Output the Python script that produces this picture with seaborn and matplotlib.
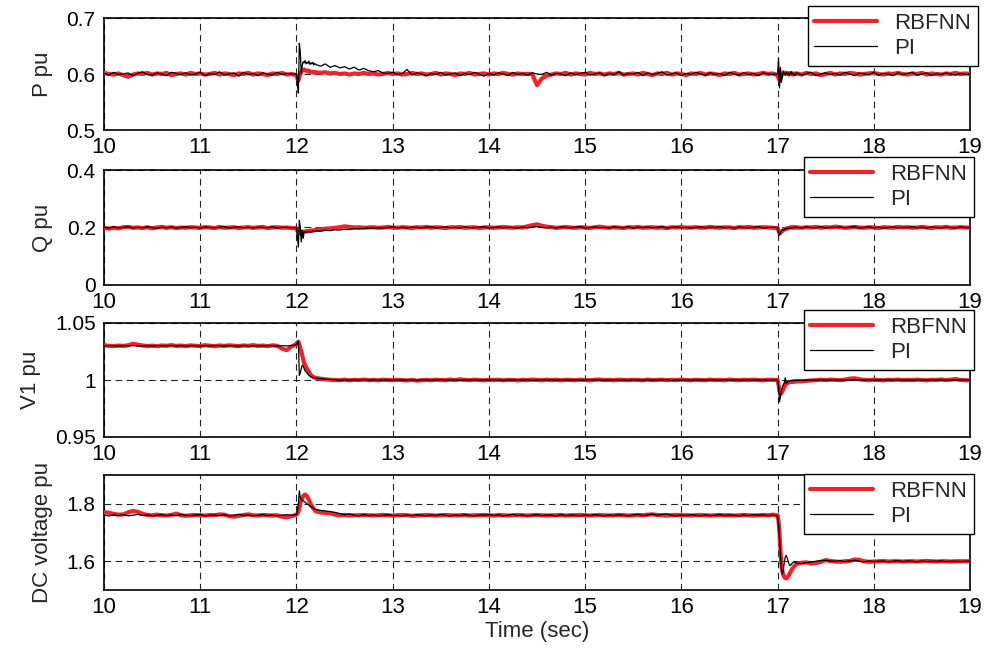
import numpy as np
import pandas as pd
import matplotlib
matplotlib.use("Agg")
import matplotlib.pyplot as plt
import seaborn as sns

# ---------------- time grid (s): coarse in steady state, fine around the events
t = np.round(np.concatenate([
    np.linspace(10.00, 11.95, 40),
    np.linspace(12.00, 12.19, 20),
    np.linspace(12.20, 16.95, 96),
    np.linspace(17.00, 17.19, 20),
    np.linspace(17.20, 19.00, 37),
]), 2)

x_ticks = [10, 11, 12, 13, 14, 15, 16, 17, 18, 19]
x_tick_labels = ["10", "11", "12", "13", "14", "15", "16", "17", "18", "19"]
series_names = ["RBFNN", "PI"]

# ---------------- P (pu)
p_rbfnn = (
    [0.602, 0.600, 0.599, 0.601, 0.598, 0.595, 0.599, 0.601, 0.600, 0.602,
     0.599, 0.601, 0.600, 0.602, 0.598, 0.600, 0.601, 0.599, 0.602, 0.600,
     0.601, 0.599, 0.600, 0.602, 0.599, 0.601, 0.600, 0.598, 0.601, 0.600,
     0.602, 0.599, 0.601, 0.600, 0.598, 0.601, 0.600, 0.602, 0.599, 0.600]
    + [0.598, 0.592, 0.588, 0.595, 0.600, 0.604, 0.606, 0.607, 0.608, 0.607,
       0.606, 0.605, 0.606, 0.604, 0.605, 0.603, 0.604, 0.603, 0.604, 0.602]
    + [0.603, 0.602, 0.603, 0.601, 0.602, 0.600,
       0.601, 0.599, 0.601, 0.600, 0.602, 0.600,
       0.601, 0.599, 0.600, 0.602, 0.600, 0.601,
       0.599, 0.600, 0.602, 0.600, 0.601, 0.599,
       0.600, 0.602, 0.599, 0.601, 0.600, 0.598,
       0.601, 0.600, 0.602, 0.599, 0.600, 0.601,
       0.599, 0.601, 0.600, 0.602, 0.600, 0.599,
       0.601, 0.600, 0.600, 0.600, 0.580, 0.592,
       0.597, 0.599, 0.601, 0.600, 0.602, 0.599,
       0.601, 0.600, 0.599, 0.602, 0.600, 0.601,
       0.599, 0.601, 0.600, 0.602, 0.599, 0.600,
       0.601, 0.599, 0.602, 0.600, 0.598, 0.601,
       0.600, 0.602, 0.599, 0.601, 0.600, 0.598,
       0.601, 0.600, 0.602, 0.599, 0.601, 0.600,
       0.598, 0.601, 0.600, 0.602, 0.599, 0.600,
       0.601, 0.599, 0.600, 0.602, 0.600, 0.601]
    + [0.598, 0.592, 0.589, 0.593, 0.597, 0.600, 0.603, 0.602, 0.601, 0.600,
       0.602, 0.601, 0.599, 0.600, 0.602, 0.601, 0.599, 0.600, 0.601, 0.600]
    + [0.601, 0.599, 0.602, 0.600, 0.601, 0.598,
       0.600, 0.602, 0.599, 0.601, 0.600, 0.602,
       0.601, 0.599, 0.600, 0.601, 0.602, 0.600,
       0.599, 0.601, 0.600, 0.602, 0.600, 0.599,
       0.601, 0.600, 0.602, 0.599, 0.601, 0.600,
       0.599, 0.601, 0.600, 0.602, 0.600, 0.601,
       0.600]
)
p_pi = (
    [0.601, 0.598, 0.603, 0.599, 0.600, 0.602, 0.597, 0.601, 0.604, 0.599,
     0.598, 0.602, 0.600, 0.597, 0.603, 0.601, 0.599, 0.602, 0.598, 0.600,
     0.603, 0.597, 0.601, 0.599, 0.604, 0.598, 0.600, 0.602, 0.596, 0.603,
     0.599, 0.601, 0.597, 0.602, 0.600, 0.598, 0.603, 0.599, 0.601, 0.600]
    + [0.600, 0.585, 0.566, 0.655, 0.640, 0.600, 0.615, 0.622, 0.620, 0.624,
       0.618, 0.621, 0.619, 0.623, 0.617, 0.620, 0.618, 0.621, 0.616, 0.619]
    + [0.617, 0.614, 0.618, 0.612, 0.615, 0.611,
       0.613, 0.609, 0.612, 0.607, 0.610, 0.606,
       0.604, 0.606, 0.602, 0.601, 0.603, 0.599,
       0.601, 0.608, 0.598, 0.602, 0.600, 0.597,
       0.601, 0.599, 0.603, 0.598, 0.600, 0.602,
       0.597, 0.601, 0.599, 0.603, 0.600, 0.596,
       0.601, 0.598, 0.602, 0.600, 0.597, 0.603,
       0.599, 0.601, 0.598, 0.602, 0.600, 0.599,
       0.603, 0.598, 0.601, 0.600, 0.597, 0.602,
       0.599, 0.601, 0.603, 0.598, 0.600, 0.602,
       0.597, 0.601, 0.599, 0.604, 0.598, 0.601,
       0.600, 0.603, 0.597, 0.602, 0.599, 0.601,
       0.604, 0.598, 0.600, 0.602, 0.597, 0.601,
       0.599, 0.603, 0.600, 0.598, 0.602, 0.599,
       0.601, 0.597, 0.603, 0.600, 0.598, 0.602,
       0.599, 0.601, 0.597, 0.602, 0.600, 0.599]
    + [0.600, 0.628, 0.575, 0.612, 0.585, 0.596, 0.604, 0.601, 0.598, 0.603,
       0.600, 0.602, 0.598, 0.601, 0.604, 0.599, 0.602, 0.600, 0.597, 0.601]
    + [0.602, 0.598, 0.601, 0.603, 0.597, 0.600,
       0.602, 0.599, 0.601, 0.598, 0.603, 0.600,
       0.597, 0.602, 0.600, 0.599, 0.603, 0.598,
       0.601, 0.600, 0.597, 0.602, 0.599, 0.601,
       0.603, 0.598, 0.600, 0.602, 0.597, 0.601,
       0.599, 0.602, 0.600, 0.598, 0.601, 0.599,
       0.600]
)

# ---------------- Q (pu)
q_rbfnn = (
    [0.198, 0.196, 0.199, 0.197, 0.201, 0.202, 0.199, 0.200, 0.198, 0.201,
     0.197, 0.200, 0.202, 0.199, 0.201, 0.198, 0.200, 0.199, 0.201, 0.200,
     0.199, 0.201, 0.200, 0.198, 0.202, 0.199, 0.200, 0.201, 0.198, 0.200,
     0.201, 0.199, 0.200, 0.202, 0.198, 0.200, 0.201, 0.199, 0.200, 0.198]
    + [0.197, 0.188, 0.182, 0.180, 0.183, 0.185, 0.186, 0.184, 0.185, 0.186,
       0.187, 0.186, 0.188, 0.187, 0.189, 0.188, 0.190, 0.189, 0.190, 0.191]
    + [0.192, 0.194, 0.196, 0.197, 0.199, 0.201,
       0.204, 0.202, 0.200, 0.201, 0.199, 0.200,
       0.201, 0.199, 0.200, 0.202, 0.200, 0.199,
       0.201, 0.200, 0.198, 0.201, 0.200, 0.202,
       0.199, 0.201, 0.200, 0.198, 0.201, 0.200,
       0.202, 0.199, 0.200, 0.201, 0.198, 0.200,
       0.201, 0.199, 0.200, 0.202, 0.200, 0.199,
       0.201, 0.200, 0.204, 0.208, 0.211, 0.206,
       0.203, 0.201, 0.199, 0.200, 0.202, 0.200,
       0.199, 0.201, 0.200, 0.198, 0.201, 0.203,
       0.200, 0.199, 0.201, 0.200, 0.198, 0.201,
       0.200, 0.202, 0.199, 0.200, 0.201, 0.199,
       0.200, 0.198, 0.201, 0.200, 0.202, 0.199,
       0.200, 0.201, 0.199, 0.200, 0.202, 0.200,
       0.199, 0.201, 0.200, 0.198, 0.201, 0.200,
       0.202, 0.199, 0.200, 0.201, 0.200, 0.199]
    + [0.198, 0.188, 0.180, 0.182, 0.185, 0.188, 0.191, 0.193, 0.195, 0.196,
       0.198, 0.197, 0.199, 0.200, 0.201, 0.200, 0.199, 0.201, 0.200, 0.202]
    + [0.200, 0.199, 0.201, 0.200, 0.202, 0.199,
       0.201, 0.200, 0.203, 0.201, 0.199, 0.200,
       0.202, 0.200, 0.199, 0.201, 0.200, 0.198,
       0.201, 0.200, 0.199, 0.202, 0.200, 0.201,
       0.199, 0.200, 0.202, 0.200, 0.198, 0.201,
       0.200, 0.202, 0.199, 0.200, 0.201, 0.200,
       0.200]
)
q_pi = (
    [0.201, 0.198, 0.202, 0.199, 0.200, 0.203, 0.198, 0.201, 0.199, 0.202,
     0.200, 0.197, 0.201, 0.199, 0.202, 0.198, 0.200, 0.203, 0.199, 0.201,
     0.198, 0.202, 0.200, 0.199, 0.201, 0.203, 0.198, 0.200, 0.202, 0.199,
     0.201, 0.198, 0.202, 0.200, 0.199, 0.203, 0.198, 0.201, 0.200, 0.199]
    + [0.200, 0.170, 0.132, 0.225, 0.200, 0.150, 0.190, 0.162, 0.185, 0.183,
       0.186, 0.184, 0.185, 0.187, 0.184, 0.186, 0.185, 0.188, 0.186, 0.187]
    + [0.188, 0.187, 0.190, 0.189, 0.192, 0.191,
       0.194, 0.193, 0.196, 0.195, 0.197, 0.198,
       0.197, 0.199, 0.198, 0.200, 0.202, 0.199,
       0.201, 0.198, 0.202, 0.200, 0.199, 0.201,
       0.203, 0.198, 0.200, 0.202, 0.199, 0.201,
       0.198, 0.202, 0.200, 0.199, 0.201, 0.203,
       0.198, 0.200, 0.202, 0.199, 0.201, 0.200,
       0.198, 0.202, 0.199, 0.201, 0.203, 0.200,
       0.199, 0.201, 0.198, 0.202, 0.200, 0.199,
       0.201, 0.203, 0.198, 0.200, 0.202, 0.199,
       0.201, 0.198, 0.202, 0.200, 0.199, 0.203,
       0.198, 0.201, 0.200, 0.202, 0.199, 0.201,
       0.203, 0.198, 0.200, 0.202, 0.199, 0.201,
       0.198, 0.200, 0.202, 0.199, 0.201, 0.200,
       0.203, 0.199, 0.201, 0.198, 0.202, 0.200,
       0.199, 0.201, 0.203, 0.198, 0.200, 0.201]
    + [0.200, 0.185, 0.172, 0.180, 0.188, 0.192, 0.190, 0.195, 0.193, 0.197,
       0.196, 0.198, 0.197, 0.199, 0.198, 0.200, 0.199, 0.201, 0.200, 0.199]
    + [0.201, 0.198, 0.202, 0.200, 0.199, 0.203,
       0.198, 0.201, 0.200, 0.202, 0.199, 0.201,
       0.203, 0.198, 0.200, 0.202, 0.199, 0.201,
       0.198, 0.200, 0.202, 0.199, 0.201, 0.200,
       0.203, 0.199, 0.201, 0.198, 0.202, 0.200,
       0.199, 0.201, 0.200, 0.198, 0.202, 0.200,
       0.200]
)

# ---------------- V1 (pu)
v1_rbfnn = (
    [1.0305, 1.0300, 1.0297, 1.0302, 1.0299, 1.0304, 1.0318, 1.0310, 1.0303, 1.0298,
     1.0301, 1.0296, 1.0303, 1.0300, 1.0306, 1.0299, 1.0302, 1.0297, 1.0304, 1.0300,
     1.0298, 1.0305, 1.0301, 1.0296, 1.0303, 1.0299, 1.0304, 1.0301, 1.0297, 1.0303,
     1.0300, 1.0306, 1.0299, 1.0302, 1.0297, 1.0304, 1.0300, 1.0275, 1.0262, 1.0295]
    + [1.0315, 1.0330, 1.0335, 1.0310, 1.0280, 1.0250, 1.0215, 1.0180, 1.0150, 1.0130,
       1.0115, 1.0100, 1.0085, 1.0070, 1.0055, 1.0045, 1.0035, 1.0030, 1.0025, 1.0022]
    + [1.0018, 1.0012, 1.0006, 1.0002, 1.0000, 0.9998,
       1.0003, 0.9997, 1.0002, 0.9999, 1.0004, 0.9998,
       1.0001, 0.9997, 1.0003, 1.0000, 0.9998, 1.0002,
       0.9999, 0.9996, 1.0001, 0.9994, 0.9998, 1.0002,
       0.9997, 1.0003, 1.0000, 0.9998, 1.0004, 0.9999,
       1.0006, 1.0001, 0.9998, 1.0003, 1.0000, 0.9997,
       1.0002, 0.9999, 1.0003, 0.9997, 1.0001, 1.0000,
       0.9996, 1.0002, 0.9999, 1.0004, 1.0000, 0.9998,
       1.0003, 0.9999, 1.0001, 0.9997, 1.0002, 1.0000,
       0.9998, 1.0003, 1.0000, 0.9997, 1.0002, 1.0004,
       0.9999, 1.0001, 0.9997, 1.0003, 1.0000, 0.9998,
       1.0002, 1.0000, 0.9997, 1.0004, 0.9999, 1.0001,
       1.0003, 0.9998, 1.0001, 0.9999, 1.0004, 1.0000,
       0.9997, 1.0002, 1.0000, 0.9998, 1.0003, 0.9999,
       1.0001, 0.9997, 1.0004, 1.0000, 0.9998, 1.0002,
       0.9999, 1.0003, 1.0000, 0.9997, 1.0002, 1.0001]
    + [1.0000, 0.9960, 0.9900, 0.9880, 0.9885, 0.9900, 0.9920, 0.9940, 0.9955, 0.9965,
       0.9972, 0.9978, 0.9982, 0.9980, 0.9985, 0.9983, 0.9987, 0.9984, 0.9988, 0.9986]
    + [0.9990, 0.9988, 0.9993, 0.9996, 0.9998, 1.0003,
       0.9999, 1.0004, 1.0001, 0.9998, 1.0003, 1.0012,
       1.0015, 1.0006, 1.0001, 0.9998, 1.0003, 1.0000,
       0.9997, 1.0002, 1.0000, 1.0004, 0.9998, 1.0001,
       0.9999, 1.0003, 1.0000, 0.9997, 1.0002, 1.0000,
       1.0005, 0.9999, 1.0003, 1.0008, 1.0001, 0.9998,
       0.9996]
)
v1_pi = (
    [1.0298, 1.0302, 1.0300, 1.0297, 1.0301, 1.0299, 1.0303, 1.0298, 1.0300, 1.0301,
     1.0297, 1.0302, 1.0299, 1.0300, 1.0303, 1.0298, 1.0301, 1.0299, 1.0300, 1.0302,
     1.0298, 1.0301, 1.0299, 1.0302, 1.0300, 1.0297, 1.0301, 1.0300, 1.0298, 1.0302,
     1.0300, 1.0299, 1.0301, 1.0298, 1.0302, 1.0300, 1.0297, 1.0301, 1.0299, 1.0302]
    + [1.0310, 1.0330, 1.0340, 1.0040, 1.0060, 1.0100, 1.0130, 1.0120, 1.0100, 1.0080,
       1.0070, 1.0060, 1.0050, 1.0040, 1.0035, 1.0030, 1.0025, 1.0020, 1.0022, 1.0018]
    + [1.0015, 1.0012, 1.0008, 1.0005, 1.0002, 0.9997,
       1.0002, 0.9998, 1.0001, 0.9999, 1.0003, 0.9998,
       1.0000, 1.0002, 0.9997, 1.0001, 0.9999, 1.0002,
       0.9998, 1.0001, 1.0000, 0.9997, 1.0002, 0.9999,
       1.0001, 0.9998, 1.0003, 1.0000, 0.9999, 1.0002,
       0.9997, 1.0001, 1.0000, 1.0002, 0.9998, 1.0001,
       0.9999, 1.0002, 1.0000, 0.9998, 1.0001, 0.9999,
       1.0002, 0.9999, 1.0001, 0.9997, 1.0000, 1.0002,
       0.9999, 1.0001, 0.9998, 1.0002, 1.0000, 0.9999,
       1.0001, 0.9998, 1.0000, 1.0002, 0.9999, 1.0001,
       0.9998, 1.0000, 1.0002, 0.9999, 1.0001, 0.9997,
       1.0002, 1.0000, 0.9999, 1.0001, 0.9998, 1.0000,
       1.0001, 1.0003, 0.9996, 1.0000, 0.9999, 1.0002,
       0.9998, 1.0001, 1.0000, 0.9999, 1.0002, 1.0000,
       0.9999, 1.0002, 0.9998, 1.0001, 1.0000, 0.9999,
       1.0002, 0.9999, 1.0000, 1.0001, 0.9998, 1.0001]
    + [1.0000, 0.9950, 0.9810, 0.9850, 0.9900, 0.9940, 0.9960, 0.9975, 1.0020, 0.9970,
       0.9980, 0.9985, 0.9990, 0.9992, 0.9995, 0.9994, 0.9996, 0.9997, 0.9995, 0.9998]
    + [0.9997, 0.9999, 0.9998, 1.0000, 0.9998, 1.0001,
       0.9999, 1.0000, 1.0002, 0.9999, 1.0001, 0.9998,
       1.0000, 1.0001, 0.9999, 1.0002, 1.0000, 0.9998,
       1.0001, 0.9999, 1.0000, 1.0002, 0.9999, 1.0000,
       0.9998, 1.0001, 1.0000, 0.9999, 1.0002, 1.0000,
       0.9999, 1.0001, 1.0000, 0.9998, 1.0001, 1.0000,
       1.0000]
)

# ---------------- DC voltage (pu)
dc_rbfnn = (
    [1.770, 1.769, 1.765, 1.762, 1.763, 1.770, 1.775, 1.772, 1.765, 1.761,
     1.760, 1.762, 1.760, 1.759, 1.761, 1.766, 1.760, 1.758, 1.760, 1.761,
     1.760, 1.759, 1.761, 1.760, 1.763, 1.762, 1.757, 1.755, 1.758, 1.761,
     1.763, 1.760, 1.759, 1.761, 1.760, 1.759, 1.760, 1.755, 1.753, 1.757]
    + [1.762, 1.765, 1.772, 1.785, 1.800, 1.812, 1.820, 1.826, 1.830, 1.832,
       1.830, 1.826, 1.820, 1.812, 1.805, 1.798, 1.792, 1.786, 1.782, 1.778]
    + [1.774, 1.770, 1.768, 1.767, 1.762, 1.760,
       1.761, 1.759, 1.760, 1.760, 1.761, 1.760,
       1.759, 1.760, 1.761, 1.760, 1.759, 1.760,
       1.761, 1.760, 1.758, 1.759, 1.760, 1.761,
       1.760, 1.759, 1.760, 1.761, 1.760, 1.759,
       1.760, 1.761, 1.759, 1.760, 1.760, 1.761,
       1.760, 1.759, 1.761, 1.760, 1.759, 1.760,
       1.761, 1.760, 1.759, 1.760, 1.761, 1.760,
       1.759, 1.760, 1.760, 1.761, 1.759, 1.760,
       1.760, 1.761, 1.760, 1.759, 1.760, 1.761,
       1.760, 1.759, 1.760, 1.761, 1.760, 1.759,
       1.760, 1.761, 1.760, 1.762, 1.763, 1.761,
       1.760, 1.759, 1.760, 1.761, 1.760, 1.760,
       1.759, 1.760, 1.761, 1.760, 1.759, 1.760,
       1.761, 1.760, 1.760, 1.759, 1.760, 1.761,
       1.760, 1.759, 1.760, 1.761, 1.760, 1.762]
    + [1.760, 1.740, 1.700, 1.640, 1.590, 1.565, 1.552, 1.545, 1.542, 1.540,
       1.543, 1.548, 1.553, 1.560, 1.566, 1.572, 1.577, 1.581, 1.585, 1.588]
    + [1.591, 1.595, 1.596, 1.592, 1.594, 1.598,
       1.604, 1.601, 1.599, 1.598, 1.600, 1.601,
       1.606, 1.605, 1.600, 1.598, 1.599, 1.600,
       1.601, 1.599, 1.600, 1.600, 1.599, 1.600,
       1.600, 1.599, 1.600, 1.601, 1.600, 1.599,
       1.600, 1.600, 1.599, 1.600, 1.600, 1.600,
       1.600]
)
dc_pi = (
    [1.760, 1.758, 1.761, 1.759, 1.762, 1.758, 1.760, 1.763, 1.759, 1.761,
     1.758, 1.760, 1.762, 1.759, 1.761, 1.758, 1.763, 1.760, 1.759, 1.761,
     1.762, 1.758, 1.760, 1.761, 1.759, 1.762, 1.758, 1.760, 1.763, 1.759,
     1.761, 1.758, 1.760, 1.762, 1.759, 1.761, 1.758, 1.760, 1.762, 1.760]
    + [1.762, 1.775, 1.800, 1.845, 1.820, 1.815, 1.812, 1.810, 1.808, 1.805,
       1.802, 1.800, 1.797, 1.795, 1.792, 1.790, 1.788, 1.786, 1.784, 1.782]
    + [1.780, 1.777, 1.775, 1.773, 1.770, 1.766,
       1.762, 1.765, 1.760, 1.758, 1.762, 1.759,
       1.761, 1.758, 1.760, 1.762, 1.759, 1.760,
       1.758, 1.761, 1.759, 1.762, 1.760, 1.758,
       1.761, 1.759, 1.763, 1.760, 1.758, 1.761,
       1.759, 1.762, 1.760, 1.758, 1.761, 1.760,
       1.762, 1.759, 1.761, 1.758, 1.760, 1.763,
       1.759, 1.761, 1.758, 1.760, 1.762, 1.759,
       1.761, 1.760, 1.758, 1.762, 1.759, 1.761,
       1.760, 1.758, 1.761, 1.759, 1.762, 1.760,
       1.758, 1.761, 1.759, 1.762, 1.760, 1.758,
       1.761, 1.763, 1.759, 1.761, 1.764, 1.760,
       1.763, 1.765, 1.760, 1.758, 1.761, 1.759,
       1.762, 1.760, 1.758, 1.761, 1.759, 1.760,
       1.762, 1.759, 1.761, 1.760, 1.758, 1.761,
       1.759, 1.762, 1.760, 1.761, 1.759, 1.760]
    + [1.758, 1.730, 1.680, 1.620, 1.570, 1.555, 1.570, 1.595, 1.615, 1.620,
       1.612, 1.600, 1.590, 1.585, 1.588, 1.592, 1.596, 1.598, 1.597, 1.595]
    + [1.593, 1.592, 1.595, 1.598, 1.600, 1.602,
       1.603, 1.601, 1.600, 1.602, 1.599, 1.601,
       1.603, 1.600, 1.598, 1.601, 1.599, 1.600,
       1.601, 1.598, 1.600, 1.602, 1.599, 1.601,
       1.600, 1.598, 1.601, 1.599, 1.600, 1.600,
       1.601, 1.599, 1.600, 1.600, 1.599, 1.600,
       1.600]
)

# ---------------- per-panel axis text
y_labels = ["P pu", "Q pu", "V1 pu", "DC voltage pu"]
y_ticks = [[0.5, 0.6, 0.7], [0, 0.2, 0.4], [0.95, 1.0, 1.05], [1.6, 1.8]]
y_tick_labels = [["0.5", "0.6", "0.7"], ["0", "0.2", "0.4"],
                 ["0.95", "1", "1.05"], ["1.6", "1.8"]]
y_limits = [(0.5, 0.7), (0.0, 0.4), (0.95, 1.05), (1.5, 1.9)]
rbfnn_series = [p_rbfnn, q_rbfnn, v1_rbfnn, dc_rbfnn]
pi_series = [p_pi, q_pi, v1_pi, dc_pi]

# ---------------- layout / style (not data)
FIG_W, FIG_H = 988, 655
axes_px = [(18, 130), (170, 285), (323, 437), (475, 590)]   # top, bottom
legend_anchor = [(1.0092, 1.107), (1.0046, 1.113), (1.0046, 1.114), (1.0046, 1.009)]
LEFT_PX, RIGHT_PX = 104, 970
RED = "#f0222a"
FONT = ["Liberation Sans", "DejaVu Sans"]

sns.set_style("white")
plt.rcParams["font.family"] = FONT
plt.rcParams["axes.edgecolor"] = "black"
plt.rcParams["axes.linewidth"] = 1.2

fig = plt.figure(figsize=(FIG_W / 100, FIG_H / 100), dpi=100)
for i in range(4):
    top, bot = axes_px[i]
    ax = fig.add_axes([LEFT_PX / FIG_W, 1 - bot / FIG_H,
                       (RIGHT_PX - LEFT_PX) / FIG_W, (bot - top) / FIG_H])
    rb = np.asarray(rbfnn_series[i])
    pi = np.asarray(pi_series[i])
    df = pd.DataFrame({"Time": np.concatenate([t, t]),
                       "value": np.concatenate([rb, pi]),
                       "Controller": [series_names[0]] * len(t) + [series_names[1]] * len(t)})
    sns.lineplot(data=df[df.Controller == "RBFNN"], x="Time", y="value", ax=ax,
                 color=RED, linewidth=3.0, estimator=None, sort=False,
                 label="RBFNN", zorder=3)
    sns.lineplot(data=df[df.Controller == "PI"], x="Time", y="value", ax=ax,
                 color="black", linewidth=0.9, estimator=None, sort=False,
                 label="PI", zorder=4)
    ax.set_xlim(10, 19)
    ax.set_ylim(*y_limits[i])
    ax.set_xticks(x_ticks)
    ax.set_xticklabels(x_tick_labels, fontsize=16)
    ax.set_yticks(y_ticks[i])
    ax.set_yticklabels(y_tick_labels[i], fontsize=15)
    ax.tick_params(direction="in", length=3, width=1, pad=5, colors="black")
    ax.tick_params(axis="y", pad=6)
    ax.grid(True, color="#222222", linestyle=(0, (6, 4)), linewidth=0.8)
    ax.set_axisbelow(True)
    ax.set_ylabel(y_labels[i], fontsize=16, labelpad=10)
    ax.set_xlabel("Time (sec)" if i == 3 else "", fontsize=16, labelpad=2)
    for s in ax.spines.values():
        s.set_visible(True)
        s.set_color("black")
        s.set_linewidth(1.2)
    leg = ax.legend(loc="upper right", bbox_to_anchor=legend_anchor[i],
                    frameon=True, fancybox=False, framealpha=1, edgecolor="black",
                    fontsize=16, handlelength=2.8, handletextpad=0.8,
                    borderpad=0.3, labelspacing=0.2, borderaxespad=0.0)
    leg.get_frame().set_linewidth(1.0)
    leg.set_zorder(10)

fig.savefig("out.png", dpi=100)
